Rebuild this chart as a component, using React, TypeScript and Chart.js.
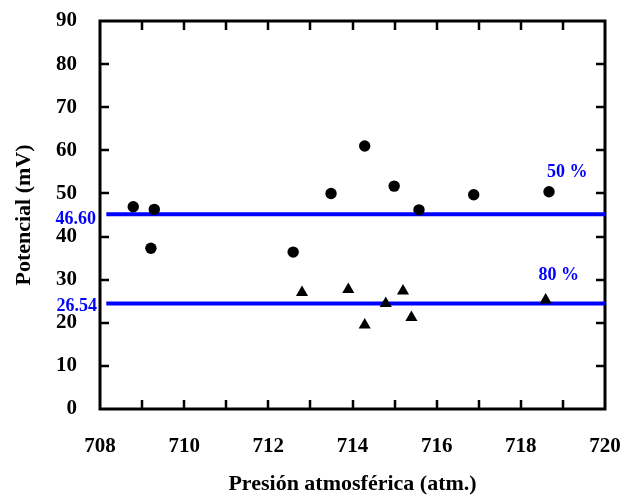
import React, { useEffect, useRef } from "react";
import { Chart, registerables } from "chart.js";

Chart.register(...registerables);

// Data
const circlesX = [708.79, 709.29, 709.21, 712.59, 713.49, 714.29, 714.99, 715.58, 716.88, 718.67];
const circlesY = [46.9, 46.3, 37.3, 36.4, 50.0, 61.0, 51.7, 46.2, 49.7, 50.4];
const trianglesX = [712.8, 713.9, 714.29, 714.79, 715.2, 715.4, 718.59];
const trianglesY = [27.0, 27.7, 19.5, 24.5, 27.4, 21.2, 25.3];

const line50Y = 45.2;
const line80Y = 24.5;
const lineStartX = 708.15;
const lineEndX = 720;
const line50Label = "46.60";
const line80Label = "26.54";
const pct50Label = "50 %";
const pct80Label = "80 %";
const pct50Pos = { x: 719.1, y: 55.0 };
const pct80Pos = { x: 718.9, y: 31.0 };

const xMin = 708;
const xMax = 720;
const yMin = 0;
const yMax = 90;
const xTickStep = 1;
const yTickStep = 10;

const xTitle = "Presión atmosférica (atm.)";
const yTitle = "Potencial (mV)";

const FONT = "'Liberation Serif', 'Times New Roman', serif";
const BLUE = "rgb(0,0,255)";

const framePlugin = {
  id: "frame",
  beforeDatasetsDraw(chart: any) {
    const { ctx, chartArea: a, scales } = chart;
    const xs = scales.x;
    const ys = scales.y;
    ctx.save();
    ctx.strokeStyle = "#000";
    ctx.lineWidth = 2.5;
    const tl = 9;
    ctx.beginPath();
    for (let v = xMin + xTickStep; v < xMax; v += xTickStep) {
      const px = Math.round(xs.getPixelForValue(v));
      ctx.moveTo(px, a.bottom);
      ctx.lineTo(px, a.bottom - tl);
      ctx.moveTo(px, a.top);
      ctx.lineTo(px, a.top + tl);
    }
    for (let v = yMin + yTickStep; v < yMax; v += yTickStep) {
      const py = Math.round(ys.getPixelForValue(v));
      ctx.moveTo(a.left, py);
      ctx.lineTo(a.left + tl, py);
      ctx.moveTo(a.right, py);
      ctx.lineTo(a.right - tl, py);
    }
    ctx.stroke();
    ctx.lineWidth = 3;
    ctx.strokeRect(a.left, a.top, a.right - a.left, a.bottom - a.top);
    ctx.restore();
  },
  afterDatasetsDraw(chart: any) {
    const { ctx, chartArea: a, scales } = chart;
    const xs = scales.x;
    const ys = scales.y;
    ctx.save();
    ctx.fillStyle = BLUE;
    ctx.font = `bold 18px ${FONT}`;
    ctx.textBaseline = "middle";
    ctx.textAlign = "right";
    ctx.fillText(line50Label, a.left - 4, ys.getPixelForValue(line50Y) + 5);
    ctx.fillText(line80Label, a.left - 3, ys.getPixelForValue(line80Y) + 3);
    ctx.textAlign = "center";
    ctx.fillText(pct50Label, xs.getPixelForValue(pct50Pos.x), ys.getPixelForValue(pct50Pos.y));
    ctx.fillText(pct80Label, xs.getPixelForValue(pct80Pos.x), ys.getPixelForValue(pct80Pos.y));
    ctx.restore();
  },
};

export default function App() {
  const ref = useRef<HTMLCanvasElement | null>(null);
  useEffect(() => {
    document.body.style.margin = "0";
    const canvas = ref.current;
    if (!canvas) return;
    const chart = new Chart(canvas, {
      type: "scatter",
      data: {
        datasets: [
          {
            label: "50 %",
            data: circlesX.map((x, i) => ({ x, y: circlesY[i] })),
            pointStyle: "circle",
            pointRadius: 5.7,
            backgroundColor: "#000",
            borderColor: "#000",
            borderWidth: 0,
          },
          {
            label: "80 %",
            data: trianglesX.map((x, i) => ({ x, y: trianglesY[i] })),
            pointStyle: "triangle",
            pointRadius: 7,
            backgroundColor: "#000",
            borderColor: "#000",
            borderWidth: 0,
          },
          {
            type: "line",
            label: "line50",
            data: [
              { x: lineStartX, y: line50Y },
              { x: lineEndX, y: line50Y },
            ],
            borderColor: BLUE,
            borderWidth: 4,
            pointRadius: 0,
            showLine: true,
            fill: false,
          } as any,
          {
            type: "line",
            label: "line80",
            data: [
              { x: lineStartX, y: line80Y },
              { x: lineEndX, y: line80Y },
            ],
            borderColor: BLUE,
            borderWidth: 4,
            pointRadius: 0,
            showLine: true,
            fill: false,
          } as any,
        ],
      },
      options: {
        animation: false,
        responsive: true,
        maintainAspectRatio: false,
        layout: { padding: { top: 21, right: 17, left: 0, bottom: 0 } },
        plugins: {
          legend: { display: false },
          tooltip: { enabled: false },
        },
        scales: {
          x: {
            type: "linear",
            min: xMin,
            max: xMax,
            afterFit: (s: any) => {
              s.height = 86;
              s.paddingLeft = 0;
              s.paddingRight = 0;
            },
            grid: { display: false, drawTicks: false },
            border: { display: false },
            ticks: {
              stepSize: xTickStep,
              autoSkip: false,
              maxRotation: 0,
              padding: 25,
              color: "#000",
              font: { family: FONT, size: 21, weight: "bold" },
              callback: (v: any) => (Number(v) % 2 === 0 ? String(v) : ""),
            },
            title: {
              display: true,
              text: xTitle,
              color: "#000",
              padding: 0,
              font: { family: FONT, size: 22, weight: "bold", lineHeight: 1 },
            },
          },
          y: {
            type: "linear",
            min: yMin,
            max: yMax,
            afterFit: (s: any) => {
              s.width = 100;
              s.paddingTop = 0;
              s.paddingBottom = 0;
            },
            grid: { display: false, drawTicks: false },
            border: { display: false },
            ticks: {
              stepSize: yTickStep,
              padding: 23,
              color: "#000",
              font: { family: FONT, size: 21, weight: "bold" },
            },
            title: {
              display: true,
              text: yTitle,
              color: "#000",
              padding: { top: 13, bottom: 0 },
              font: { family: FONT, size: 22, weight: "bold", lineHeight: 1 },
            },
          },
        },
      },
      plugins: [framePlugin],
    });
    return () => chart.destroy();
  }, []);
  return (
    <div style={{ width: 622, height: 495, position: "relative" }}>
      <canvas ref={ref} />
    </div>
  );
}
